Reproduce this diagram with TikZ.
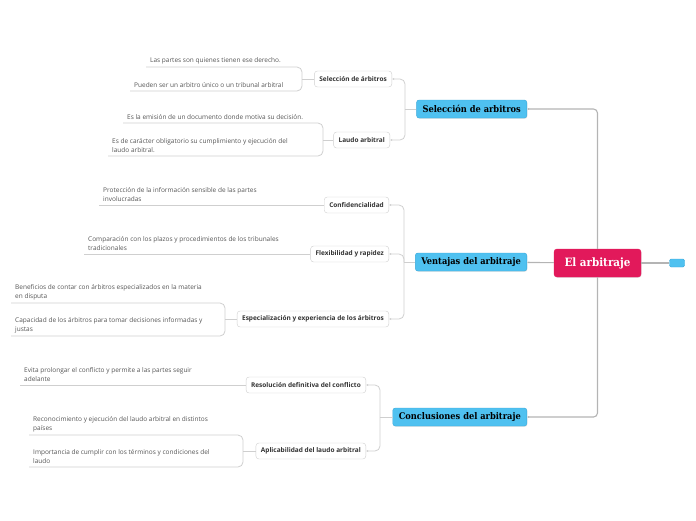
\documentclass[tikz,border=0pt]{standalone}
\usepackage{fontspec}
\setmainfont{Open Sans}
\newfontfamily\slabfont{DejaVu Serif Condensed}
\usetikzlibrary{arrows.meta,shadows}

\definecolor{topicblue}{HTML}{4FC1F0}
\definecolor{topicedge}{HTML}{3BA9DA}
\definecolor{rootred}{HTML}{E2195B}
\definecolor{linegray}{HTML}{B4B4B4}
\definecolor{twiggray}{HTML}{CFCFCF}
\definecolor{leafgray}{HTML}{555555}

\tikzset{
  root/.style={fill=rootred, draw=rootred, rounded corners=3pt, text=white,
    font=\slabfont\bfseries\fontsize{11.5}{13}\selectfont,
    minimum width=87pt, minimum height=28pt,
    drop shadow={opacity=0.2, shadow xshift=0.6pt, shadow yshift=-0.8pt}},
  topic/.style={fill=topicblue, draw=topicedge, rounded corners=2.5pt,
    font=\slabfont\bfseries\fontsize{9.2}{10}\selectfont,
    minimum height=18pt, inner xsep=6pt, anchor=east,
    drop shadow={opacity=0.2, shadow xshift=0.6pt, shadow yshift=-0.8pt}},
  subtopic/.style={draw=twiggray, fill=white, rounded corners=3pt, text=black!80,
    font=\bfseries\fontsize{6.5}{7.5}\selectfont,
    minimum height=16pt, inner xsep=5pt, anchor=east},
  leaf/.style={anchor=south west, align=left, inner xsep=4pt, inner ysep=3pt,
    text=leafgray, font=\fontsize{6.5}{9}\selectfont},
  branch/.style={draw=linegray, line width=1.1pt, rounded corners=4pt},
  twig/.style={draw=twiggray, line width=0.8pt, rounded corners=5pt},
  pointed/.style={{Latex[length=2.2pt,width=2.2pt]}-},
}

\begin{document}
\begin{tikzpicture}[x=1pt, y=-1pt]
\useasboundingbox (0,0) rectangle (696,520);

% Central idea and main topics
\node[root] (root) at (597.5,263) {El arbitraje};
\node[draw=topicedge, fill=topicblue, rounded corners=1.5pt, minimum width=15pt,
  minimum height=8pt, inner sep=0pt] (tail) at (677,263) {};

\node[topic] (sel) at (527,109) {Selección de arbitros};
\node[topic] (ven) at (527,262) {Ventajas del arbitraje};
\node[topic] (con) at (527,417) {Conclusiones del arbitraje};

% Subtopics
\node[subtopic] (selarb) at (392,79) {Selección de árbitros};
\node[subtopic] (laudo) at (390,140) {Laudo arbitral};
\node[subtopic] (conf) at (389,205) {Confidencialidad};
\node[subtopic] (flex) at (389,254) {Flexibilidad y rapidez};
\node[subtopic] (espec) at (389,319) {Especialización y experiencia de los árbitros};
\node[subtopic] (resol) at (366,385) {Resolución definitiva del conflicto};
\node[subtopic] (aplic) at (366,451) {Aplicabilidad del laudo arbitral};

% Leaves (text sits on its own underline)
\node[leaf] (partes) at (146,67) {Las partes son quienes tienen ese derecho.};
\node[leaf] (unico) at (130,91) {Pueden ser un arbitro único o un tribunal arbitral};
\node[leaf] (emision) at (123,123) {Es la emisión de un documento donde motiva su decisión.};
\node[leaf] (oblig) at (108,156) {Es de carácter obligatorio su cumplimiento y ejecución del\\laudo arbitral.};
\node[leaf] (proteccion) at (99,205) {Protección de la información sensible de las partes\\involucradas};
\node[leaf] (plazos) at (84,254) {Comparación con los plazos y procedimientos de los tribunales\\tradicionales};
\node[leaf] (beneficios) at (11,303) {Beneficios de contar con árbitros especializados en la materia\\en disputa};
\node[leaf] (capacidad) at (11,336) {Capacidad de los árbitros para tomar decisiones informadas y\\justas};
\node[leaf] (evita) at (20,385) {Evita prolongar el conflicto y permite a las partes seguir\\adelante};
\node[leaf] (reconoc) at (29,435) {Reconocimiento y ejecución del laudo arbitral en distintos\\países};
\node[leaf] (importancia) at (29,467) {Importancia de cumplir con los términos y condiciones del\\laudo};

% Forks
\coordinate (selhub) at (405,109);
\coordinate (venhub) at (404,262);
\coordinate (conhub) at (380,417);
\coordinate (selfork) at (302,79);
\coordinate (laudofork) at (323,140);
\coordinate (especfork) at (225,319);
\coordinate (aplicfork) at (243,451);

% Root to main topics
\draw[branch, pointed] (sel) -| (root);
\draw[branch, pointed] (ven) -- (root);
\draw[branch, pointed] (con) -| (root);
\draw[branch] (root) -- (tail);

% Main topics to subtopics
\foreach \s/\h in {selarb/selhub, laudo/selhub, conf/venhub, flex/venhub,
                   espec/venhub, resol/conhub, aplic/conhub}
  \draw[twig, pointed] (\s) -| (\h);
\draw[twig] (sel) -- (selhub);
\draw[twig] (ven) -- (venhub);
\draw[twig] (con) -- (conhub);

% Subtopics to leaves
\draw[twig] (partes.south west) -| (selfork) |- (unico.south west);
\draw[twig] (selfork) -- (selarb);
\draw[twig] (emision.south west) -| (laudofork) |- (oblig.south west);
\draw[twig] (laudofork) -- (laudo);
\draw[twig] (proteccion.south west) -- (proteccion.south west -| conf.west);
\draw[twig] (plazos.south west) -- (plazos.south west -| flex.west);
\draw[twig] (beneficios.south west) -| (especfork) |- (capacidad.south west);
\draw[twig] (especfork) -- (espec);
\draw[twig] (evita.south west) -- (evita.south west -| resol.west);
\draw[twig] (reconoc.south west) -| (aplicfork) |- (importancia.south west);
\draw[twig] (aplicfork) -- (aplic);
\end{tikzpicture}
\end{document}
